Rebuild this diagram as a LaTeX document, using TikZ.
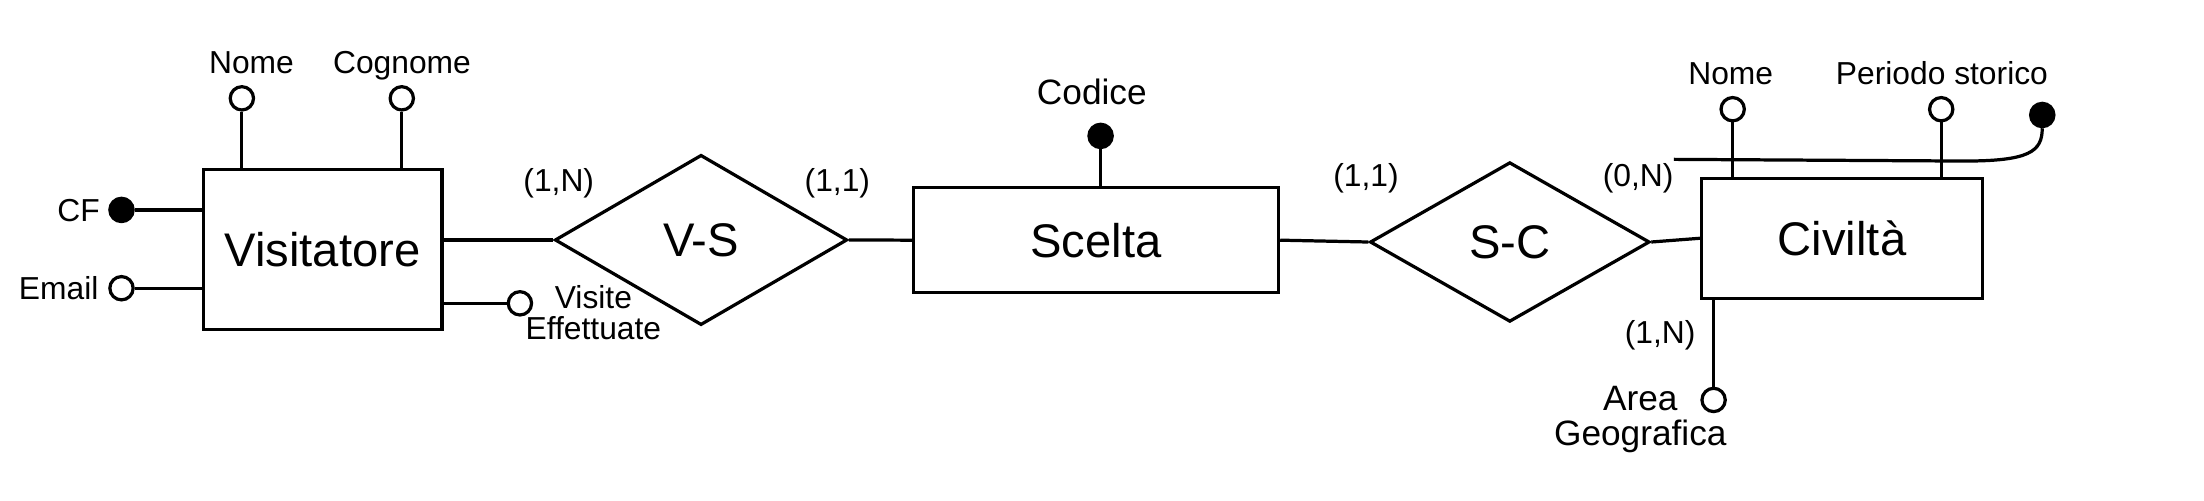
\documentclass[tikz,border=0pt]{standalone}
\usepackage{fontspec}
\setmainfont{Liberation Sans}
\usetikzlibrary{shapes.geometric}

\tikzset{
  lien/.style={line width=1.3pt},
  entite/.style={draw, lien, rectangle, inner sep=0pt, font=\fontsize{19}{22}\selectfont, text height=13.6pt, text depth=0pt},
  relation/.style={draw, lien, diamond, inner sep=0pt, font=\fontsize{19}{22}\selectfont, text height=13.6pt, text depth=0pt},
  attribut/.style={draw, lien, circle, fill=white, minimum size=0.33cm, inner sep=0pt},
  cle/.style={attribut, fill=black},
  etiq/.style={font=\fontsize{12.8}{12.8}\selectfont, inner sep=0pt, text height=9.2pt, text depth=0pt},
  etiqg/.style={font=\fontsize{14.2}{14.2}\selectfont, inner sep=0pt, text height=10.2pt, text depth=0pt},
  card/.style={etiq}
}

\begin{document}
\begin{tikzpicture}[scale=1]
        \useasboundingbox (0,0) rectangle (31.2,-7.08);

        % Entités
        \node[entite, minimum width=3.38cm, minimum height=2.27cm] (Visitatore) at (4.566,-3.533) {Visitatore};
        \node[entite, minimum width=5.17cm, minimum height=1.49cm] (Scelta) at (15.515,-3.40) {Scelta};
        \node[entite, minimum width=3.98cm, minimum height=1.70cm] (Civilta) at (26.076,-3.373) {Civiltà};

        % Relations
        \node[relation, minimum width=4.14cm, minimum height=2.41cm] (VS) at (9.924,-3.397) {V-S};
        \node[relation, minimum width=3.96cm, minimum height=2.26cm] (SC) at (21.373,-3.426) {S-C};

        % Liens entre entités et relations
        \draw[lien] (VS.west -| Visitatore.east) -- (VS.west);
        \draw[lien] (VS.east) -- (Scelta.west);
        \draw[lien] (Scelta.east) -- (SC.west);
        \draw[lien] (SC.east) -- (Civilta.west);

        % Cardinalités
        \node[card] (cardVisVS) at (7.91,-2.55) {(1,N)};
        \node[card] (cardSceVS) at (11.854,-2.55) {(1,1)};
        \node[card] (cardSceSC) at (19.336,-2.48) {(1,1)};
        \node[card] (cardCivSC) at (23.19,-2.48) {(0,N)};
        \node[card] (cardCivArea) at (23.5,-4.695) {(1,N)};

        % Attributs de Visitatore
        \node[attribut] (VisNome) at (3.424,-1.392) {};
        \node[attribut] (VisCognome) at (5.688,-1.392) {};
        \node[cle] (VisCF) at (1.72,-2.972) {};
        \node[attribut] (VisEmail) at (1.72,-4.08) {};
        \node[attribut] (VisVisite) at (7.36,-4.294) {};
        \draw[lien] (VisNome) -- (VisNome |- Visitatore.north);
        \draw[lien] (VisCognome) -- (VisCognome |- Visitatore.north);
        \draw[lien] (VisCF) -- (VisCF -| Visitatore.west);
        \draw[lien] (VisEmail) -- (VisEmail -| Visitatore.west);
        \draw[lien] (VisVisite) -- (VisVisite -| Visitatore.east);
        \node[etiq] (lVisNome) at (3.56,-0.874) {Nome};
        \node[etiq] (lVisCognome) at (5.69,-0.874) {Cognome};
        \node[etiq, anchor=east] (lVisCF) at (1.42,-2.972) {CF};
        \node[etiq, anchor=east] (lVisEmail) at (1.40,-4.08) {Email};
        \node[font=\fontsize{12.8}{12.5}\selectfont, inner sep=0pt, align=center] (lVisVisite) at (8.4,-4.42) {Visite\\Effettuate};

        % Attribut de Scelta
        \node[cle] (SceCodice) at (15.58,-1.924) {};
        \draw[lien] (SceCodice) -- (SceCodice |- Scelta.north);
        \node[etiqg] (lSceCodice) at (15.456,-1.298) {Codice};

        % Attributs de Civiltà
        \node[attribut] (CivNome) at (24.528,-1.546) {};
        \node[attribut] (CivPeriodo) at (27.48,-1.546) {};
        \node[attribut] (CivArea) at (24.258,-5.662) {};
        \draw[lien] (CivNome) -- (CivNome |- Civilta.north);
        \draw[lien] (CivPeriodo) -- (CivPeriodo |- Civilta.north);
        \draw[lien] (CivArea) -- (CivArea |- Civilta.south);
        \node[etiq] (lCivNome) at (24.5,-1.038) {Nome};
        \node[etiq] (lCivPeriodo) at (27.49,-1.038) {Periodo storico};
        \node[font=\fontsize{14.2}{14.1}\selectfont, inner sep=0pt, align=center] (lCivArea) at (23.22,-5.94) {Area\\Geografica};

        % Identificatore composto di Civiltà
        \node[cle] (CivCle) at (28.91,-1.628) {};
        \coordinate (debutCle) at (23.696,-2.256);
        \draw[lien] (debutCle) -- (27.8,-2.28) .. controls (28.72,-2.28) and (28.91,-2.15) .. (CivCle.south);
    \end{tikzpicture}
\end{document}
